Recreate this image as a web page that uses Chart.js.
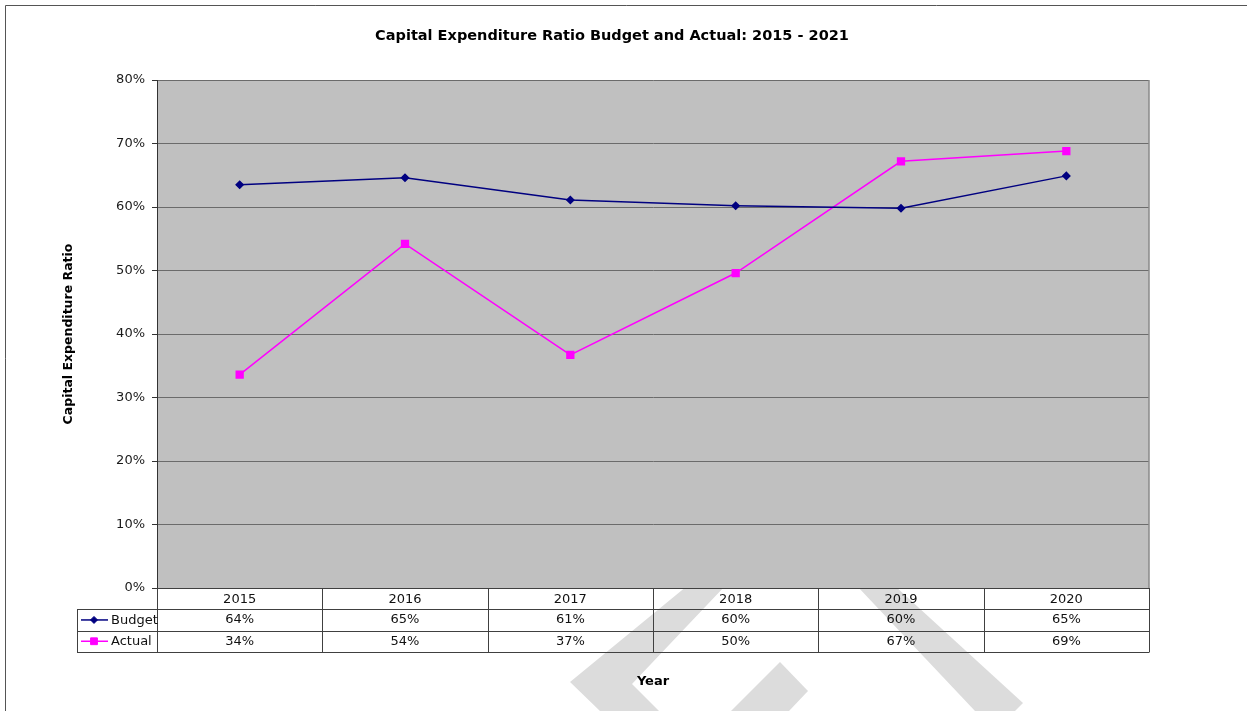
<!DOCTYPE html>
<html>
<head>
<meta charset="utf-8">
<script src="https://cdn.jsdelivr.net/npm/chart.js@4/dist/chart.umd.min.js"></script>
<style>
  html, body { margin: 0; padding: 0; background: #fff; }
  #wrap { width: 1247px; height: 711px; position: relative; }
</style>
</head>
<body>
<div id="wrap"><canvas id="capexChart"></canvas></div>
<script>
const years = ['2015', '2016', '2017', '2018', '2019', '2020'];
const budget = [63.5, 64.6, 61.1, 60.2, 59.8, 64.9];
const actual = [33.6, 54.2, 36.7, 49.6, 67.2, 68.8];
const yTicks = [0, 10, 20, 30, 40, 50, 60, 70, 80];
const chartTitle = 'Capital Expenditure Ratio Budget and Actual: 2015 - 2021';

const ROW_H = 21.3;
const LEGEND_W = 80;

Chart.defaults.font.family = 'DejaVu Sans';
Chart.defaults.font.size = 13;
Chart.defaults.color = '#1a1a1a';

// watermark, frame, title and grey plot area
const backdrop = {
  id: 'backdrop',
  beforeDraw(chart) {
    const ctx = chart.ctx;
    const a = chart.chartArea;
    ctx.save();
    ctx.fillStyle = '#dcdcdc';
    const shapes = [
      [[687, 586], [725, 586], [632, 684], [659, 711], [600, 711], [570, 682]],
      [[731, 711], [780, 662], [808, 691], [789, 711]],
      [[857, 586], [895, 586], [1023, 703], [1015, 711], [975, 711]]
    ];
    shapes.forEach(s => {
      ctx.beginPath();
      s.forEach((p, i) => i ? ctx.lineTo(p[0], p[1]) : ctx.moveTo(p[0], p[1]));
      ctx.closePath();
      ctx.fill();
    });
    // outer frame
    ctx.strokeStyle = '#555';
    ctx.lineWidth = 1;
    ctx.beginPath();
    ctx.moveTo(5.5, chart.height);
    ctx.lineTo(5.5, 5.5);
    ctx.lineTo(chart.width, 5.5);
    ctx.stroke();
    // title
    ctx.fillStyle = '#000';
    ctx.font = 'bold 14.5px DejaVu Sans';
    ctx.textAlign = 'center';
    ctx.textBaseline = 'middle';
    ctx.fillText(chartTitle, 612, 36);
    // plot area
    ctx.fillStyle = '#c0c0c0';
    ctx.fillRect(a.left, a.top, a.right - a.left, a.bottom - a.top);
    ctx.restore();
  },
  beforeDatasetsDraw(chart) {
    const ctx = chart.ctx;
    const a = chart.chartArea;
    ctx.save();
    ctx.strokeStyle = '#8a8a8a';
    ctx.lineWidth = 1.5;
    ctx.beginPath();
    ctx.moveTo(a.right, a.top);
    ctx.lineTo(a.right, a.bottom);
    ctx.stroke();
    ctx.restore();
  }
};

// data table under the plot
const dataTable = {
  id: 'dataTable',
  afterDraw(chart) {
    const ctx = chart.ctx;
    const a = chart.chartArea;
    const xs = chart.scales.x;
    const y0 = a.bottom;
    const y1 = y0 + ROW_H, y2 = y1 + ROW_H, y3 = y2 + ROW_H;
    const legL = a.left - LEGEND_W;
    ctx.save();
    ctx.strokeStyle = '#404040';
    ctx.lineWidth = 1;
    ctx.beginPath();
    [y1, y2, y3].forEach(y => {
      ctx.moveTo(legL, Math.round(y) + 0.5);
      ctx.lineTo(a.right, Math.round(y) + 0.5);
    });
    const bounds = [a.left];
    for (let i = 0; i < years.length - 1; i++) {
      bounds.push((xs.getPixelForValue(i) + xs.getPixelForValue(i + 1)) / 2);
    }
    bounds.push(a.right);
    bounds.forEach(x => {
      ctx.moveTo(Math.round(x) + 0.5, y0);
      ctx.lineTo(Math.round(x) + 0.5, Math.round(y3) + 0.5);
    });
    ctx.moveTo(legL + 0.5, Math.round(y1) + 0.5);
    ctx.lineTo(legL + 0.5, Math.round(y3) + 0.5);
    ctx.stroke();

    ctx.font = '13px DejaVu Sans';
    ctx.textBaseline = 'middle';
    const rows = [[budget, y1], [actual, y2]];
    rows.forEach(([vals, top], r) => {
      const cy = top + ROW_H / 2;
      ctx.fillStyle = '#111';
      ctx.textAlign = 'center';
      vals.forEach((v, i) => {
        ctx.fillText(Math.round(v) + '%', xs.getPixelForValue(i), cy);
      });
      const ds = chart.data.datasets[r];
      ctx.strokeStyle = ds.borderColor;
      ctx.lineWidth = 1.5;
      ctx.beginPath();
      ctx.moveTo(legL + 4, cy);
      ctx.lineTo(legL + 31, cy);
      ctx.stroke();
      ctx.fillStyle = ds.pointBackgroundColor;
      ctx.strokeStyle = ds.pointBorderColor;
      ctx.lineWidth = 1;
      Chart.helpers.drawPoint(ctx, {
        pointStyle: ds.pointStyle,
        radius: ds.pointRadius,
        borderWidth: 1
      }, legL + 17, cy);
      ctx.fillStyle = '#111';
      ctx.textAlign = 'left';
      ctx.fillText(ds.label, legL + 34, cy + 0.5);
    });
    ctx.restore();
  }
};

new Chart(document.getElementById('capexChart'), {
  type: 'line',
  data: {
    labels: years,
    datasets: [{
      label: 'Budget',
      data: budget,
      borderColor: '#000080',
      backgroundColor: '#000080',
      pointBackgroundColor: '#000080',
      pointBorderColor: '#000080',
      pointStyle: 'rectRot',
      pointRadius: 3.5,
      borderWidth: 1.5,
      tension: 0
    }, {
      label: 'Actual',
      data: actual,
      borderColor: '#ff00ff',
      backgroundColor: '#ff00ff',
      pointBackgroundColor: '#ff00ff',
      pointBorderColor: '#ff00ff',
      pointStyle: 'rect',
      pointRadius: 4.8,
      borderWidth: 1.5,
      tension: 0
    }]
  },
  options: {
    responsive: true,
    maintainAspectRatio: false,
    animation: false,
    layout: { padding: { left: 0, right: 98, top: 80, bottom: 0 } },
    plugins: {
      legend: { display: false },
      tooltip: { enabled: false },
      title: { display: false }
    },
    scales: {
      x: {
        offset: true,
        grid: { display: false, drawTicks: false },
        border: { display: true, color: '#404040', width: 1 },
        ticks: { autoSkip: false, maxRotation: 0, padding: 4, color: '#111' },
        title: {
          display: true,
          text: 'Year',
          color: '#000',
          font: { size: 13, weight: 'bold' },
          padding: { top: 0, bottom: 22 }
        },
        afterFit(scale) { scale.height = 123; }
      },
      y: {
        min: 0,
        max: 80,
        afterBuildTicks(scale) { scale.ticks = yTicks.map(v => ({ value: v })); },
        grid: { color: '#6b6b6b', tickColor: '#333', tickLength: 5 },
        border: { display: true, color: '#333', width: 1 },
        ticks: { padding: 7, color: '#1a1a1a', callback: v => v + '%' },
        title: {
          display: true,
          text: 'Capital Expenditure Ratio',
          color: '#000',
          font: { size: 12.5, weight: 'bold' },
          padding: { top: 61, bottom: 0 }
        },
        afterFit(scale) { scale.width = 157; }
      }
    }
  },
  plugins: [backdrop, dataTable]
});
</script>
</body>
</html>
